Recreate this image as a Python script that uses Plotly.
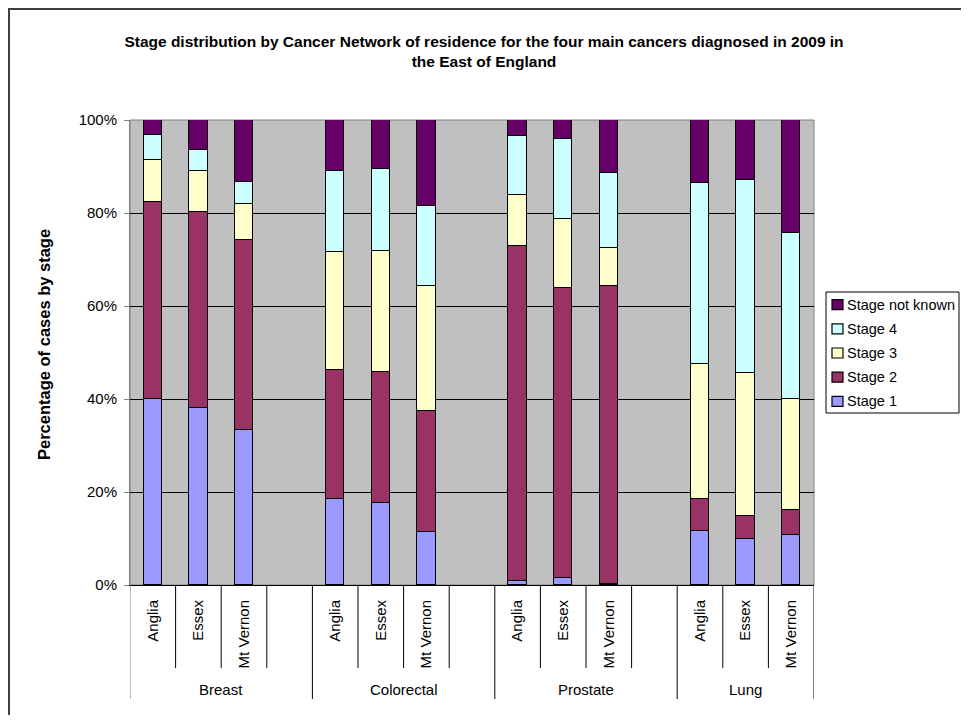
import plotly.graph_objects as go

# ---- data (percent of cases by stage) ----
cancers = ["Breast", "Colorectal", "Prostate", "Lung"]
networks = ["Anglia", "Essex", "Mt Vernon"]
stages = ["Stage 1", "Stage 2", "Stage 3", "Stage 4", "Stage not known"]

# values per cancer, ordered by network (Anglia, Essex, Mt Vernon)
stage1 = {
    "Breast": [40.1, 38.0, 33.3],
    "Colorectal": [18.4, 17.6, 11.3],
    "Prostate": [0.8, 1.4, 0.3],
    "Lung": [11.6, 10.0, 10.8],
}
stage2 = {
    "Breast": [42.2, 42.3, 41.0],
    "Colorectal": [27.8, 28.3, 26.2],
    "Prostate": [72.2, 62.4, 63.9],
    "Lung": [6.9, 4.8, 5.3],
}
stage3 = {
    "Breast": [9.1, 8.7, 7.6],
    "Colorectal": [25.5, 26.0, 26.7],
    "Prostate": [10.9, 15.0, 8.2],
    "Lung": [29.0, 30.7, 23.8],
}
stage4 = {
    "Breast": [5.4, 4.5, 4.8],
    "Colorectal": [17.3, 17.6, 17.3],
    "Prostate": [12.7, 17.1, 16.1],
    "Lung": [39.0, 41.6, 35.7],
}
stage_nk = {
    "Breast": [3.2, 6.5, 13.3],
    "Colorectal": [11.0, 10.5, 18.5],
    "Prostate": [3.4, 4.1, 11.5],
    "Lung": [13.5, 12.9, 24.4],
}
y_ticks = [0, 20, 40, 60, 80, 100]

title_text = ("Stage distribution by Cancer Network of residence for the four main cancers diagnosed in 2009 in"
              "<br>the East of England")
y_title = "Percentage of cases by stage"

colors = ["#9999FF", "#993366", "#FFFFCC", "#CCFFFF", "#660066"]
FONT = "Liberation Sans, Arial, sans-serif"

# ---- category slots: each cancer group has its networks plus one empty slot (except the last) ----
slots_per_group = 4
xpos, xlabels = [], []
group_ranges = []
for g, c in enumerate(cancers):
    start = g * slots_per_group
    n_slots = len(networks) + (1 if g < len(cancers) - 1 else 0)
    group_ranges.append((start - 0.5, start + n_slots - 0.5))
    for j, n in enumerate(networks):
        xpos.append(start + j)
        xlabels.append(n)

fig = go.Figure()
series = [stage1, stage2, stage3, stage4, stage_nk]
for i, (name, data, col) in enumerate(zip(stages, series, colors)):
    yv = []
    for c in cancers:
        yv.extend(data[c])
    fig.add_trace(go.Bar(
        x=xpos, y=yv, name=name, width=0.4,
        marker=dict(color=col, line=dict(color="black", width=1.4)),
        showlegend=False,
    ))

# page has an 8px body margin; figure sized so the page fits the window
OFF = 8
W, H = 969 - 2 * OFF, 723 - 2 * OFF
PL, PR, PT, PB = 130, 814, 120, 585          # plot area in screen pixels
L, R, T, B = PL - OFF, W - (PR - OFF), PT - OFF, H - (PB - OFF)
pw, ph = PR - PL, PB - PT

def sx(px):  # screen px -> paper x
    return (px - PL) / pw

def sy(py):  # screen px -> paper y
    return (PB - py) / ph

x_min = group_ranges[0][0]
x_max = group_ranges[-1][1]

shapes = []
shapes.append(dict(type="rect", xref="paper", yref="paper", x0=0, x1=1, y0=0, y1=1,
                   line=dict(color="#808080", width=1), layer="below"))
sub_bottom = sy(668)
grp_bottom = sy(699)
for (a, b) in group_ranges:
    k = a + 1
    while k < b - 1e-9:
        shapes.append(dict(type="line", xref="x", yref="paper", x0=k, x1=k, y0=0, y1=sub_bottom,
                           line=dict(color="black", width=1)))
        k += 1
bounds = sorted(set([r[0] for r in group_ranges] + [r[1] for r in group_ranges]))
for bx in bounds:
    shapes.append(dict(type="line", xref="x", yref="paper", x0=bx, x1=bx, y0=0, y1=grp_bottom,
                       line=dict(color="#808080" if bx == x_min else "black", width=1)))
# outer chart border
shapes.append(dict(type="rect", xref="paper", yref="paper",
                   x0=sx(OFF + 1), x1=sx(1000),
                   y0=sy(760), y1=sy(OFF + 1),
                   line=dict(color="#404040", width=2), fillcolor="rgba(0,0,0,0)"))

annotations = []
for (a, b), c in zip(group_ranges, cancers):
    annotations.append(dict(x=(a + b) / 2, xref="x", y=sy(689), yref="paper",
                            text=c, showarrow=False, font=dict(size=15, color="black", family=FONT),
                            xanchor="center", yanchor="middle"))
annotations.append(dict(x=sx(44), xref="paper", y=sy(345), yref="paper",
                        text="<b>" + y_title + "</b>", textangle=-90, showarrow=False,
                        font=dict(size=16.5, color="black", family=FONT),
                        xanchor="center", yanchor="middle"))

# ---- legend box (Excel style): last series on top ----
LG_L, LG_R, LG_T, LG_B = 826, 959, 292, 413
shapes.append(dict(type="rect", xref="paper", yref="paper",
                   x0=sx(LG_L), x1=sx(LG_R), y0=sy(LG_B), y1=sy(LG_T),
                   line=dict(color="black", width=1), fillcolor="white"))
row_h = (LG_B - LG_T) / len(stages)
for r, (name, col) in enumerate(zip(stages[::-1], colors[::-1])):
    cy = LG_T + row_h * (r + 0.5) + 0.5
    shapes.append(dict(type="rect", xref="paper", yref="paper",
                       x0=sx(832), x1=sx(843), y0=sy(cy + 5), y1=sy(cy - 5),
                       line=dict(color="black", width=1.2), fillcolor=col))
    annotations.append(dict(x=sx(845), xref="paper", y=sy(cy), yref="paper",
                            text=name, showarrow=False, xanchor="left", yanchor="middle",
                            font=dict(size=14.5, color="black", family=FONT)))

fig.update_layout(
    width=W, height=H,
    margin=dict(l=L, r=R, t=T, b=B, autoexpand=False),
    barmode="stack",
    paper_bgcolor="white",
    plot_bgcolor="#C0C0C0",
    font=dict(family=FONT, size=15, color="black"),
    title=dict(text="<b>" + title_text + "</b>", x=(484 - OFF) / W, xref="container", xanchor="center",
               y=1 - 39 / H, yref="container", yanchor="top",
               font=dict(size=15.5, family=FONT, color="black")),
    showlegend=False,
    xaxis=dict(range=[x_min, x_max], tickmode="array", tickvals=xpos, ticktext=xlabels,
               tickangle=-90, ticks="", showgrid=False, zeroline=False,
               showline=True, linecolor="black", linewidth=1,
               ticklabelstandoff=8, tickfont=dict(size=15)),
    yaxis=dict(range=[0, 100], tickmode="array", tickvals=y_ticks,
               ticktext=[f"{v}%" for v in y_ticks],
               ticks="outside", ticklen=5, tickcolor="#808080",
               showgrid=True, gridcolor="black", gridwidth=1, zeroline=False,
               showline=True, linecolor="#808080", linewidth=1,
               ticklabelstandoff=4, tickfont=dict(size=15)),
    shapes=shapes,
    annotations=annotations,
    bargap=0,
)

fig.write_html("out.html")
